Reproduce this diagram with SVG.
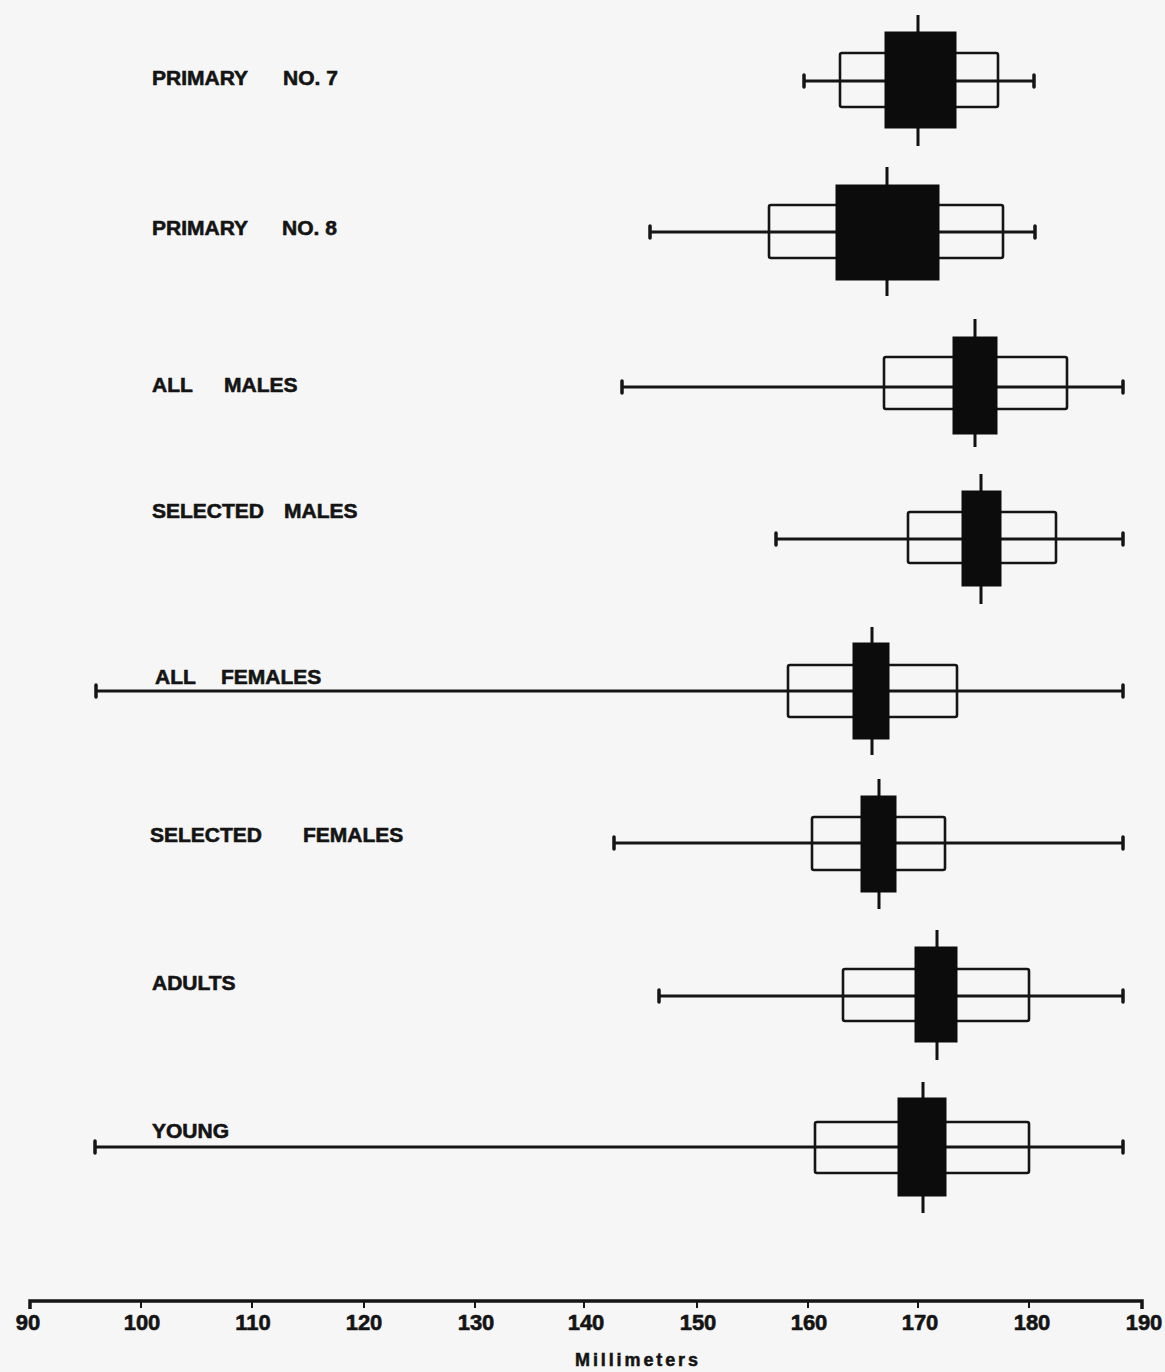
<svg xmlns="http://www.w3.org/2000/svg" width="1165" height="1372" viewBox="0 0 1165 1372">
<style>
.bg{fill:#f6f6f6}
.wh{stroke:#151515;stroke-width:3;fill:none;stroke-linecap:butt}
.cap{stroke:#151515;stroke-width:3.5;stroke-linecap:round}
.box{fill:none;stroke:#151515;stroke-width:2.6}
.blk{fill:#0c0c0c;stroke:#0c0c0c;stroke-width:1}
.med{stroke:#111;stroke-width:3}
.lbl{font-family:"Liberation Sans",Arial,sans-serif;font-weight:bold;font-size:21px;fill:#141414;stroke:#141414;stroke-width:0.6}
.num{font-family:"Liberation Sans",Arial,sans-serif;font-weight:bold;font-size:22px;fill:#141414;stroke:#141414;stroke-width:0.6;text-anchor:middle}
.unit{font-family:"Liberation Sans",Arial,sans-serif;font-weight:bold;font-size:18px;fill:#141414;stroke:#141414;stroke-width:0.5}
.ax{stroke:#151515;stroke-width:3.5;fill:none}
.tk{stroke:#151515;stroke-width:2}
</style>
<rect class="bg" x="0" y="0" width="1165" height="1372"/>

<g id="primary7">
<text class="lbl" x="152" y="85">PRIMARY<tspan x="283">NO. 7</tspan></text>
<line class="wh" x1="804" y1="81" x2="1034" y2="81"/>
<line class="cap" x1="804" y1="75" x2="804" y2="87"/>
<line class="cap" x1="1034" y1="75" x2="1034" y2="87"/>
<rect class="box" x="840" y="53" width="158" height="54" rx="2"/>
<line class="med" x1="918" y1="15" x2="918" y2="146"/>
<rect class="blk" x="885" y="32" width="71" height="96"/>
</g>

<g id="primary8">
<text class="lbl" x="152" y="235">PRIMARY<tspan x="282">NO. 8</tspan></text>
<line class="wh" x1="650" y1="232" x2="1035" y2="232"/>
<line class="cap" x1="650" y1="226" x2="650" y2="238"/>
<line class="cap" x1="1035" y1="226" x2="1035" y2="238"/>
<rect class="box" x="769" y="205" width="234" height="53" rx="2"/>
<line class="med" x1="887" y1="167" x2="887" y2="296"/>
<rect class="blk" x="836" y="185" width="103" height="95"/>
</g>

<g id="allMales">
<text class="lbl" x="152" y="392">ALL<tspan x="224">MALES</tspan></text>
<line class="wh" x1="622" y1="387" x2="1123" y2="387"/>
<line class="cap" x1="622" y1="381" x2="622" y2="393"/>
<line class="cap" x1="1123" y1="381" x2="1123" y2="393"/>
<rect class="box" x="884" y="357" width="183" height="52" rx="2"/>
<line class="med" x1="975" y1="319" x2="975" y2="447"/>
<rect class="blk" x="953" y="337" width="44" height="97"/>
</g>

<g id="selectedMales">
<text class="lbl" x="152" y="518">SELECTED<tspan x="284">MALES</tspan></text>
<line class="wh" x1="776" y1="539" x2="1123" y2="539"/>
<line class="cap" x1="776" y1="533" x2="776" y2="545"/>
<line class="cap" x1="1123" y1="533" x2="1123" y2="545"/>
<rect class="box" x="908" y="512" width="148" height="51" rx="2"/>
<line class="med" x1="981" y1="474" x2="981" y2="604"/>
<rect class="blk" x="962" y="491" width="39" height="95"/>
</g>

<g id="allFemales">
<text class="lbl" x="155" y="684">ALL<tspan x="221">FEMALES</tspan></text>
<line class="wh" x1="96" y1="691" x2="1123" y2="691"/>
<line class="cap" x1="96" y1="685" x2="96" y2="697"/>
<line class="cap" x1="1123" y1="685" x2="1123" y2="697"/>
<rect class="box" x="788" y="665" width="169" height="52" rx="2"/>
<line class="med" x1="872" y1="627" x2="872" y2="755"/>
<rect class="blk" x="853" y="643" width="36" height="96"/>
</g>

<g id="selectedFemales">
<text class="lbl" x="150" y="842">SELECTED<tspan x="303">FEMALES</tspan></text>
<line class="wh" x1="614" y1="843" x2="1123" y2="843"/>
<line class="cap" x1="614" y1="837" x2="614" y2="849"/>
<line class="cap" x1="1123" y1="837" x2="1123" y2="849"/>
<rect class="box" x="812" y="817" width="133" height="53" rx="2"/>
<line class="med" x1="879" y1="779" x2="879" y2="909"/>
<rect class="blk" x="861" y="796" width="35" height="96"/>
</g>

<g id="adults">
<text class="lbl" x="152" y="990">ADULTS</text>
<line class="wh" x1="659" y1="996" x2="1123" y2="996"/>
<line class="cap" x1="659" y1="990" x2="659" y2="1002"/>
<line class="cap" x1="1123" y1="990" x2="1123" y2="1002"/>
<rect class="box" x="843" y="969" width="186" height="52" rx="2"/>
<line class="med" x1="937" y1="930" x2="937" y2="1060"/>
<rect class="blk" x="915" y="947" width="42" height="95"/>
</g>

<g id="young">
<text class="lbl" x="152" y="1138">YOUNG</text>
<line class="wh" x1="95" y1="1147" x2="1123" y2="1147"/>
<line class="cap" x1="95" y1="1141" x2="95" y2="1153"/>
<line class="cap" x1="1123" y1="1141" x2="1123" y2="1153"/>
<rect class="box" x="815" y="1122" width="214" height="51" rx="2"/>
<line class="med" x1="923" y1="1082" x2="923" y2="1213"/>
<rect class="blk" x="898" y="1098" width="48" height="98"/>
</g>

<g id="axis">
<path class="ax" d="M30,1309 L30,1301 L1142,1301 L1142,1309"/>
<line class="tk" x1="141" y1="1301" x2="141" y2="1308"/>
<line class="tk" x1="252" y1="1301" x2="252" y2="1308"/>
<line class="tk" x1="364" y1="1301" x2="364" y2="1308"/>
<line class="tk" x1="475" y1="1301" x2="475" y2="1308"/>
<line class="tk" x1="584" y1="1301" x2="584" y2="1308"/>
<line class="tk" x1="697" y1="1301" x2="697" y2="1308"/>
<line class="tk" x1="808" y1="1301" x2="808" y2="1308"/>
<line class="tk" x1="918" y1="1301" x2="918" y2="1308"/>
<line class="tk" x1="1029" y1="1301" x2="1029" y2="1308"/>
<text class="num" x="28" y="1330">90</text>
<text class="num" x="142" y="1330">100</text>
<text class="num" x="253" y="1330">110</text>
<text class="num" x="364" y="1330">120</text>
<text class="num" x="476" y="1330">130</text>
<text class="num" x="586" y="1330">140</text>
<text class="num" x="698" y="1330">150</text>
<text class="num" x="809" y="1330">160</text>
<text class="num" x="920" y="1330">170</text>
<text class="num" x="1032" y="1330">180</text>
<text class="num" x="1144" y="1330">190</text>
<text class="unit" x="575" y="1366" textLength="123" lengthAdjust="spacing">Millimeters</text>
</g>
</svg>
